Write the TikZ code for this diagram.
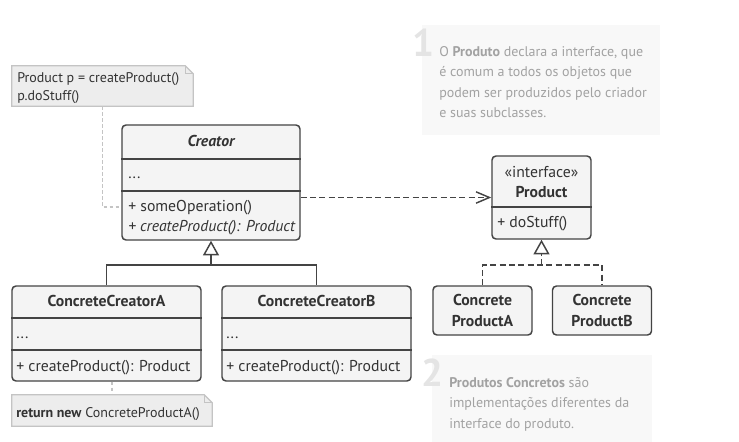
\documentclass[tikz,border=0pt]{standalone}
\usepackage{fontspec}
\setmainfont{PT Sans}
\usetikzlibrary{arrows.meta,positioning}
\definecolor{umlline}{HTML}{444444}
\definecolor{umltext}{HTML}{333333}
\definecolor{umlfill}{HTML}{F4F4F4}
\definecolor{notefill}{HTML}{EDEDED}
\definecolor{noteline}{HTML}{C4C4C4}
\definecolor{annfill}{HTML}{F8F8F8}
\definecolor{anntext}{HTML}{A2A2A2}
\definecolor{annnum}{HTML}{E4E4E4}
\tikzset{
  size/.style 2 args={minimum width=#1*0.75pt,minimum height=#2*0.75pt},
  classbox/.style={draw=umlline,fill=umlfill,line width=1.1pt,rounded corners=3pt},
  divider/.style={draw=umlline,line width=1.1pt},
  member/.style={anchor=base west},
  title/.style={anchor=base,font=\fontsize{11.8}{13}\selectfont\bfseries},
  notebox/.style={draw=noteline,fill=notefill,line width=0.9pt},
  notetext/.style={font=\fontsize{10.5}{13.5}\selectfont},
  notelink/.style={draw=noteline,line width=1pt,dash pattern=on 2.5pt off 2pt},
  tree/.style={draw=umlline,line width=1.1pt},
  extends/.style={tree,-{Triangle[length=11pt,width=12pt,fill=white]}},
  dashline/.style={dash pattern=on 4.5pt off 2.5pt},
  depends/.style={tree,dashline,-{Straight Barb[length=10pt,width=8.5pt]}},
  annbox/.style={fill=annfill},
  anntext/.style={anchor=north west,align=left,text=anntext,font=\fontsize{10.5}{15.4}\selectfont},
  annnum/.style={text=annnum,font=\fontsize{29}{29}\selectfont\bfseries}
}

\begin{document}
\begin{tikzpicture}[x=0.75pt,y=-0.75pt,
    every node/.style={inner sep=0pt,text=umltext,font=\fontsize{11.8}{13}\selectfont}]
  \useasboundingbox (0,0) rectangle (739,442);

  % hints
  \node[annbox,size={238}{110}] (ann1) at (541,80) {};
  \node[annnum] (num1) at (423,43) {1};
  \node[anntext] (ann1txt) at (439,46) {O \textbf{Produto} declara a interface, que\\é comum a todos os objetos que\\podem ser produzidos pelo criador\\e suas subclasses.};
  \node[annbox,size={220}{87}] (ann2) at (542,398.5) {};
  \node[annnum] (num2) at (432.5,373) {2};
  \node[anntext] (ann2txt) at (449,377) {\textbf{Produtos Concretos} são\\implementações diferentes da\\interface do produto.};

  % creator
  \node[classbox,size={178}{115}] (creator) at (211,182.5) {};
  \node[title,font=\fontsize{11.8}{13}\selectfont\bfseries\itshape] (creatorname) at (211,147) {Creator};
  \foreach \y in {159,191}
    \draw[divider] (creator.west |- 0,\y) -- (creator.east |- 0,\y);
  \node[member] (creatorfields) at (128,179) {...};
  \node[member] (someop) at (128,211) {+ someOperation()};
  \node[member] (factory) at (128,231) {\itshape + createProduct(): Product};

  \foreach \n/\x/\m/\suffix in {cca/106.5/16/A,ccb/316.5/226/B}
  {
    \node[classbox,size={189}{95}] (\n) at (\x,333.5) {};
    \node[title] (\n name) at (\x,306.5) {ConcreteCreator\suffix};
    \foreach \y in {318,350}
      \draw[divider] (\n.west |- 0,\y) -- (\n.east |- 0,\y);
    \node[member] (\n fields) at (\m,338) {...};
    \node[member] (\n factory) at (\m,371) {+ createProduct(): Product};
  }

  % product
  \node[classbox,size={99}{83}] (product) at (541.5,197.5) {};
  \node[anchor=base] (productstereo) at (541.5,178) {«interface»};
  \node[title] (productname) at (541.5,198) {Product};
  \draw[divider] (product.west |- 0,207) -- (product.east |- 0,207);
  \node[member] (dostuff) at (497,228) {+ doStuff()};

  \foreach \n/\x/\suffix in {cpa/482.5/A,cpb/602/B}
    \node[classbox,size={99}{49},align=center,font=\fontsize{11.8}{16}\selectfont\bfseries] (\n) at (\x,310.5) {Concrete\\Product\suffix};

  % notes
  \node[size={181}{40}] (note1) at (102.5,86) {};
  \path[notebox] (note1.south west) -- (note1.north west) -- ([xshift=-6pt]note1.north east)
    -- ([yshift=-6pt]note1.north east) -- (note1.south east) -- cycle;
  \draw[noteline,line width=0.9pt] ([xshift=-6pt]note1.north east) |- ([yshift=-6pt]note1.north east);
  \node[notetext,anchor=north west,align=left] (note1txt) at (17,72) {Product p = createProduct()\\p.doStuff()};

  \node[size={200}{31}] (note2) at (112,410.5) {};
  \path[notebox] (note2.south west) -- (note2.north west) -- ([xshift=-6pt]note2.north east)
    -- ([yshift=-6pt]note2.north east) -- (note2.south east) -- cycle;
  \draw[noteline,line width=0.9pt] ([xshift=-6pt]note2.north east) |- ([yshift=-6pt]note2.north east);
  \node[notetext,anchor=base west] (note2txt) at (16,417) {\textbf{return new} ConcreteProductA()};

  % connectors
  \draw[notelink] (note1.south) |- (creator.west |- someop);
  \draw[notelink] (cca.south -| note2.north) -- (note2.north);
  \draw[depends] (creator.east |- product) -- (product.west);

  \coordinate (cjoin) at (211,265);
  \draw[tree] (cca.north) |- (cjoin) -| (ccb.north);
  \draw[extends] (cjoin) -- (creator.south);

  \coordinate (pjoin) at (541.5,265);
  \draw[tree,dashline] (cpa.north) |- (pjoin) -| (cpb.north);
  \draw[extends,dashline] (pjoin) -- (product.south);
\end{tikzpicture}
\end{document}
